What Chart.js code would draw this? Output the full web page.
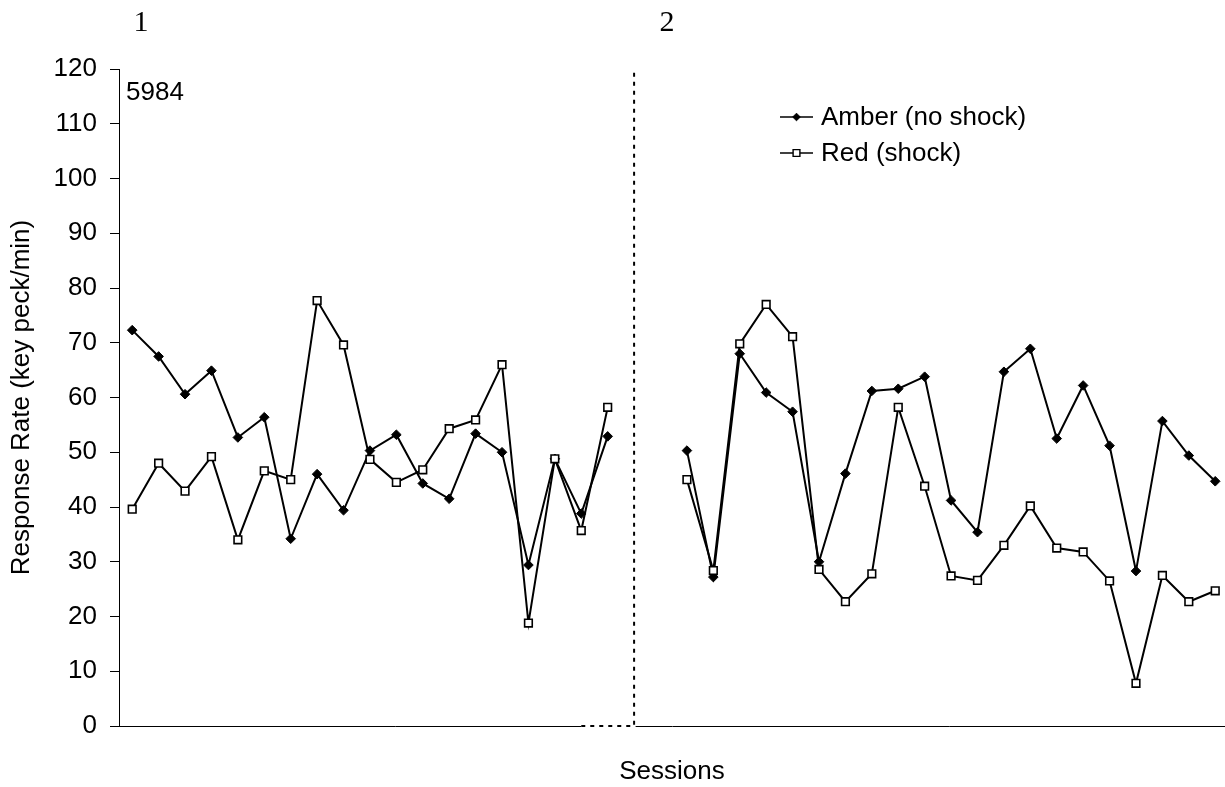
<!DOCTYPE html>
<html>
<head>
<meta charset="utf-8">
<title>Response rate by session</title>
<script src="https://cdn.jsdelivr.net/npm/chart.js@4/dist/chart.umd.min.js"></script>
<style>
    html, body { margin: 0; padding: 0; background: #fff; }
    canvas { display: block; }
</style>
</head>
<body>
<canvas id="rate-chart" width="1225" height="787"></canvas>
<script>
var subject = '5984';
var phaseLabels = ['1', '2'];
var seriesNames = ['Amber (no shock)', 'Red (shock)'];

// key pecks per minute, one value per session
var amberPhase1 = [72.3, 67.5, 60.6, 64.9, 52.7, 56.4, 34.2, 46.0, 39.4, 50.3,
                   53.2, 44.3, 41.5, 53.4, 50.0, 29.4, 48.8, 38.8, 52.9];
var redPhase1 = [39.6, 48.0, 42.9, 49.2, 34.0, 46.6, 45.0, 77.7, 69.6, 48.7,
                 44.5, 46.8, 54.3, 55.9, 66.0, 18.8, 48.8, 35.7, 58.2];
var amberPhase2 = [50.3, 27.2, 68.0, 60.9, 57.4, 30.0, 46.1, 61.2, 61.6, 63.8,
                   41.2, 35.4, 64.7, 68.9, 52.5, 62.2, 51.2, 28.3, 55.7, 49.4, 44.7];
var redPhase2 = [45.0, 28.4, 69.8, 77.0, 71.1, 28.6, 22.7, 27.8, 58.2, 43.8,
                 27.4, 26.6, 33.0, 40.2, 32.5, 31.8, 26.5, 7.8, 27.5, 22.7, 24.7];

// phase 2 is plotted two slots after the last phase 1 session
var phase2Start = 21;

// phase-change line: along the baseline, then up the full height
var phaseLineX = [17, 19, 19];
var phaseLineY = [0, 0, 120];

var yMin = 0;
var yMax = 120;
var yStep = 10;

(function () {
    var el = document.getElementById('rate-chart');
    var black = '#000000';
    var sans = "'Liberation Sans', Arial, sans-serif";
    var serif = "'Liberation Serif', 'Times New Roman', serif";

    Chart.defaults.animation = false;
    Chart.defaults.color = black;
    Chart.defaults.font.family = sans;
    Chart.defaults.font.size = 26;

    function sessions(phase1, phase2) {
        var pts = phase1.map(function (v, i) { return { x: i, y: v }; });
        // null keeps the two phases from being joined
        pts.push({ x: phase1.length, y: null });
        phase2.forEach(function (v, i) { pts.push({ x: phase2Start + i, y: v }); });
        return pts;
    }

    var phaseLine = phaseLineX.map(function (x, i) { return { x: x, y: phaseLineY[i] }; });

    function marker(ctx, style, x, y, r, fill, lw) {
        ctx.beginPath();
        if (style === 'diamond') {
            ctx.moveTo(x, y - r);
            ctx.lineTo(x + r, y);
            ctx.lineTo(x, y + r);
            ctx.lineTo(x - r, y);
        } else {
            ctx.rect(x - r, y - r, 2 * r, 2 * r);
        }
        ctx.closePath();
        ctx.fillStyle = fill;
        ctx.fill();
        ctx.lineWidth = lw;
        ctx.strokeStyle = black;
        ctx.stroke();
    }

    // legend floats inside the plot: short line with the marker on it
    var extras = {
        id: 'extras',
        afterDraw: function (chart) {
            var ctx = chart.ctx;
            var rows = [
                { text: seriesNames[0], style: 'diamond', fill: black, r: 3.8, lw: 1 },
                { text: seriesNames[1], style: 'square', fill: '#ffffff', r: 3.4, lw: 1.4 }
            ];
            ctx.save();
            rows.forEach(function (row, i) {
                var y = 117 + i * 36;
                ctx.strokeStyle = black;
                ctx.lineWidth = 1.6;
                ctx.beginPath();
                ctx.moveTo(780, y);
                ctx.lineTo(813, y);
                ctx.stroke();
                marker(ctx, row.style, 796.5, y, row.r, row.fill, row.lw);
                ctx.fillStyle = black;
                ctx.font = '26px ' + sans;
                ctx.textAlign = 'left';
                ctx.textBaseline = 'middle';
                ctx.fillText(row.text, 821, y + 1);
            });

            ctx.fillText(subject, 126, 93);

            ctx.font = '30px ' + serif;
            ctx.textAlign = 'center';
            ctx.fillText(phaseLabels[0], 141, 23);
            ctx.fillText(phaseLabels[1], 667, 23);
            ctx.restore();
        }
    };

    new Chart(el, {
        type: 'line',
        data: {
            datasets: [
                {
                    label: seriesNames[0],
                    data: sessions(amberPhase1, amberPhase2),
                    borderColor: black,
                    borderWidth: 2,
                    pointStyle: 'rectRot',
                    pointRadius: 4.8,
                    pointBackgroundColor: black,
                    pointBorderColor: black,
                    pointBorderWidth: 1,
                    tension: 0,
                    order: 1
                },
                {
                    label: seriesNames[1],
                    data: sessions(redPhase1, redPhase2),
                    borderColor: black,
                    borderWidth: 2,
                    pointStyle: 'rect',
                    pointRadius: 5.4,
                    pointBackgroundColor: '#ffffff',
                    pointBorderColor: black,
                    pointBorderWidth: 1.6,
                    tension: 0,
                    order: 0
                },
                {
                    label: 'phase',
                    data: phaseLine,
                    borderColor: black,
                    borderWidth: 2,
                    borderDash: [4, 5],
                    pointRadius: 0,
                    clip: false,
                    order: 2
                },
                {
                    // white underlay so the baseline shows only as dots here
                    label: 'phase-gap',
                    data: phaseLine,
                    borderColor: '#ffffff',
                    borderWidth: 3,
                    pointRadius: 0,
                    clip: false,
                    order: 3
                }
            ]
        },
        options: {
            responsive: false,
            layout: { autoPadding: false, padding: { top: 69, right: 0, bottom: 0, left: 0 } },
            plugins: {
                legend: { display: false },
                tooltip: { enabled: false }
            },
            scales: {
                x: {
                    type: 'linear',
                    min: -0.5,
                    max: 41.37,
                    ticks: { display: false },
                    grid: { display: false, drawTicks: false },
                    border: { display: true, color: black, width: 1 },
                    title: { display: true, text: 'Sessions', padding: 0 },
                    afterFit: function (scale) { scale.height = 61; }
                },
                y: {
                    min: yMin,
                    max: yMax,
                    ticks: { stepSize: yStep, padding: 13, color: black },
                    grid: { drawOnChartArea: false, tickLength: 9, color: black, tickColor: black },
                    border: { display: true, color: black, width: 1 },
                    title: { display: true, text: 'Response Rate (key peck/min)', padding: { top: 6, bottom: 0 } },
                    afterFit: function (scale) { scale.width = 119; }
                }
            }
        },
        plugins: [extras]
    });
})();
</script>
</body>
</html>
